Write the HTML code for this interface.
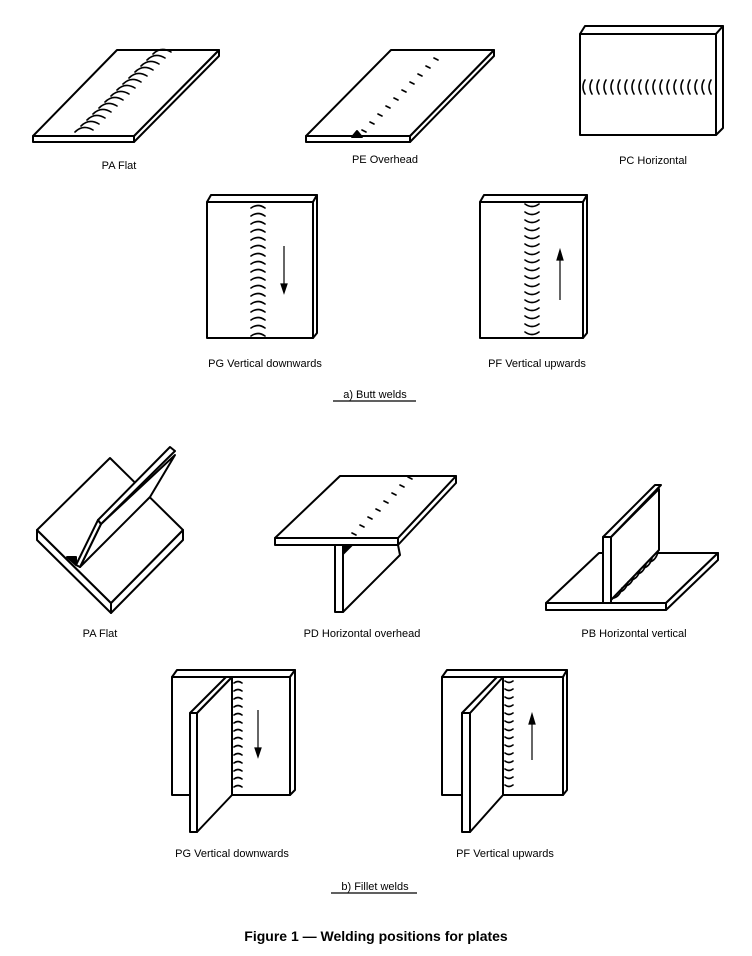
<!DOCTYPE html>
<html><head><meta charset="utf-8"><style>
html,body{margin:0;padding:0;background:#fff}
svg{display:block}
text{font-family:"Liberation Sans",sans-serif;font-size:11px;fill:#000}
</style></head><body>
<svg width="752" height="956" viewBox="0 0 752 956" xmlns="http://www.w3.org/2000/svg">
<g fill="#fff" stroke="#000" stroke-width="2" stroke-linejoin="round">
<!-- Butt PA Flat -->
<polygon points="33,136 134,136 134,142 33,142"/>
<polygon points="134,136 219,50 219,56 134,142"/>
<polygon points="117,50 219,50 134,136 33,136"/>
<!-- PE overhead -->
<polygon points="306,136 410,136 410,142 306,142"/>
<polygon points="410,136 494,50 494,56 410,142"/>
<polygon points="391,50 494,50 410,136 306,136"/>
<polygon points="352,137 357,131 362,137" fill="#000"/>
<!-- PC horizontal -->
<polygon points="580,34 585,26 723,26 716,34"/>
<polygon points="716,34 723,26 723,128 716,135"/>
<rect x="580" y="34" width="136" height="101"/>
<!-- PG butt -->
<polygon points="207,202 211,195 317,195 313,202"/>
<polygon points="313,202 317,195 317,333 313,338"/>
<rect x="207" y="202" width="106" height="136"/>
<!-- PF butt -->
<polygon points="480,202 484,195 587,195 583,202"/>
<polygon points="583,202 587,195 587,333 583,338"/>
<rect x="480" y="202" width="103" height="136"/>

<!-- Fillet PA flat -->
<polygon points="37,530 111,603 111,613 37,540"/>
<polygon points="111,603 183,530 183,540 111,613"/>
<polygon points="110,458 183,530 111,603 37,530"/>
<polygon points="101,524 175,455 150,497 80,567"/>
<polygon points="98,520 101,524 80,567 76,565"/>
<polygon points="98,520 170,447 175,451 101,524"/>
<polygon points="67,557 76,557 76,565" fill="#000"/>
<!-- PD -->
<polygon points="343,545 398,545 400,555 343,612"/>
<rect x="335" y="545" width="8" height="67"/>
<polygon points="275,538 398,538 398,545 275,545"/>
<polygon points="398,538 456,476 456,483 398,545"/>
<polygon points="340,476 456,476 398,538 275,538"/>
<polygon points="343,545 352,545 343,554" fill="#000"/>
<!-- PB -->
<polygon points="546,603 599,553 718,553 666,603"/>
<polygon points="546,603 666,603 666,610 546,610"/>
<polygon points="666,603 718,553 718,560 666,610"/>
<polygon points="611,537 659,489 659,550 611,600"/>
<polygon points="603,537 655,485 661,485 611,537"/>
<rect x="603" y="537" width="8" height="66"/>
<!-- Fillet PG -->
<polygon points="172,677 177,670 295,670 290,677"/>
<polygon points="290,677 295,670 295,790 290,795"/>
<rect x="172" y="677" width="118" height="118"/>
<polygon points="197,713 232,677 232,795 197,832"/>
<polygon points="190,713 226,677 232,677 197,713"/>
<rect x="190" y="713" width="7" height="119"/>
<!-- Fillet PF -->
<polygon points="442,677 447,670 567,670 563,677"/>
<polygon points="563,677 567,670 567,790 563,795"/>
<rect x="442" y="677" width="121" height="118"/>
<polygon points="470,713 503,677 503,795 470,832"/>
<polygon points="462,713 497,677 503,677 470,713"/>
<rect x="462" y="713" width="8" height="119"/>
</g>

<g fill="none" stroke="#000" stroke-width="1.6" stroke-linecap="round">
<path d="M75,132q8,-8 18,-2 M81,126q8,-8 18,-2 M87,120q8,-8 18,-2 M93,114q8,-8 18,-2 M99,108q8,-8 18,-2 M105,102q8,-8 18,-2 M111,96q8,-8 18,-2 M117,90q8,-8 18,-2 M123,84q8,-8 18,-2 M129,78q8,-8 18,-2 M135,72q8,-8 18,-2 M141,66q8,-8 18,-2 M147,60q8,-8 18,-2 M153,54q8,-8 18,-2"/>
<path d="M362,130l4,2 M370,122l4,2 M378,114l4,2 M386,106l4,2 M394,98l4,2 M402,90l4,2 M410,82l4,2 M418,74l4,2 M426,66l4,2 M434,58l4,2"/>
<path d="M585,80q-4,7 0,14 M592,80q-4,7 0,14 M599,80q-4,7 0,14 M606,80q-4,7 0,14 M613,80q-4,7 0,14 M620,80q-4,7 0,14 M627,80q-4,7 0,14 M634,80q-4,7 0,14 M641,80q-4,7 0,14 M648,80q-4,7 0,14 M655,80q-4,7 0,14 M662,80q-4,7 0,14 M669,80q-4,7 0,14 M676,80q-4,7 0,14 M683,80q-4,7 0,14 M690,80q-4,7 0,14 M697,80q-4,7 0,14 M704,80q-4,7 0,14 M711,80q-4,7 0,14"/>
<path d="M251,208q7,-5 14,0 M251,216q7,-5 14,0 M251,224q7,-5 14,0 M251,232q7,-5 14,0 M251,240q7,-5 14,0 M251,248q7,-5 14,0 M251,256q7,-5 14,0 M251,264q7,-5 14,0 M251,272q7,-5 14,0 M251,280q7,-5 14,0 M251,288q7,-5 14,0 M251,296q7,-5 14,0 M251,304q7,-5 14,0 M251,312q7,-5 14,0 M251,320q7,-5 14,0 M251,328q7,-5 14,0 M251,336q7,-5 14,0"/>
<path d="M525,204q7,5 14,0 M525,212q7,5 14,0 M525,220q7,5 14,0 M525,228q7,5 14,0 M525,236q7,5 14,0 M525,244q7,5 14,0 M525,252q7,5 14,0 M525,260q7,5 14,0 M525,268q7,5 14,0 M525,276q7,5 14,0 M525,284q7,5 14,0 M525,292q7,5 14,0 M525,300q7,5 14,0 M525,308q7,5 14,0 M525,316q7,5 14,0 M525,324q7,5 14,0 M525,332q7,5 14,0"/>
<path d="M352,533l4,2 M360,525l4,2 M368,517l4,2 M376,509l4,2 M384,501l4,2 M392,493l4,2 M400,485l4,2 M408,477l4,2"/>
<path d="M614,598q6,-2 8,-10 M620,592q6,-2 8,-10 M626,586q6,-2 8,-10 M632,580q6,-2 8,-10 M638,574q6,-2 8,-10 M644,568q6,-2 8,-10 M650,562q6,-2 8,-10"/>
<path d="M234,683q4,-3 8,0 M234,691q4,-3 8,0 M234,699q4,-3 8,0 M234,707q4,-3 8,0 M234,715q4,-3 8,0 M234,723q4,-3 8,0 M234,731q4,-3 8,0 M234,739q4,-3 8,0 M234,747q4,-3 8,0 M234,755q4,-3 8,0 M234,763q4,-3 8,0 M234,771q4,-3 8,0 M234,779q4,-3 8,0 M234,787q4,-3 8,0"/>
<path d="M505,681q4,3 8,0 M505,689q4,3 8,0 M505,697q4,3 8,0 M505,705q4,3 8,0 M505,713q4,3 8,0 M505,721q4,3 8,0 M505,729q4,3 8,0 M505,737q4,3 8,0 M505,745q4,3 8,0 M505,753q4,3 8,0 M505,761q4,3 8,0 M505,769q4,3 8,0 M505,777q4,3 8,0 M505,785q4,3 8,0"/>
</g>

<g stroke="#000" stroke-width="1.2" fill="#000">
<line x1="284" y1="246" x2="284" y2="286"/><polygon points="281,284 287,284 284,293"/>
<line x1="560" y1="300" x2="560" y2="258"/><polygon points="557,260 563,260 560,250"/>
<line x1="258" y1="710" x2="258" y2="750"/><polygon points="255,748 261,748 258,757"/>
<line x1="532" y1="760" x2="532" y2="722"/><polygon points="529,724 535,724 532,714"/>
<line x1="333" y1="401" x2="416" y2="401"/>
<line x1="331" y1="893" x2="417" y2="893"/>
</g>

<g text-anchor="middle">
<text x="119" y="169">PA Flat</text>
<text x="385" y="163">PE Overhead</text>
<text x="653" y="164">PC Horizontal</text>
<text x="265" y="367">PG Vertical downwards</text>
<text x="537" y="367">PF Vertical upwards</text>
<text x="375" y="398">a) Butt welds</text>
<text x="100" y="637">PA Flat</text>
<text x="362" y="637">PD Horizontal overhead</text>
<text x="634" y="637">PB Horizontal vertical</text>
<text x="232" y="857">PG Vertical downwards</text>
<text x="505" y="857">PF Vertical upwards</text>
<text x="375" y="890">b) Fillet welds</text>
<text x="376" y="941" style="font-size:14px;font-weight:bold">Figure 1 — Welding positions for plates</text>
</g>
</svg>
</body></html>
